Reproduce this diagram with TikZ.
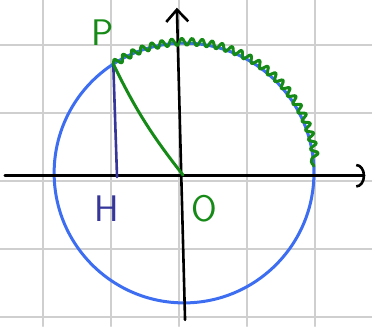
\documentclass[tikz,border=0pt]{standalone}
\usepackage{xcolor}
\usepackage{tikz}
\usetikzlibrary{arrows.meta,calc,decorations.pathmorphing}
\definecolor{bluecircle}{HTML}{3D6EF2}
\definecolor{greenmain}{HTML}{168A16}
\definecolor{indigoline}{HTML}{35359A}
\definecolor{graygrid}{HTML}{CFCFCF}
\tikzset{every node/.append style={font=\sffamily\fontsize{37}{37}\selectfont}}

\begin{document}
\begin{tikzpicture}[x=68pt,y=68pt,line cap=round,line join=round]
  \useasboundingbox (-2.691,-2.221) rectangle (2.779,2.574);
  \foreach \i in {-2,...,2} {
    \draw[graygrid,line width=2pt] ({\i-0.06},-2.221)--({\i-0.06},2.574);
    \draw[graygrid,line width=2pt] (-2.691,{\i-0.09})--(2.779,{\i-0.09});
  }
  \coordinate (O) at (0,0);
  \coordinate (C) at (0.015,0.03);
  \coordinate (P) at ($(C)+(123:1.91)$);
  \coordinate (H) at (-0.97,-0.03);
  \coordinate (Xl) at (-2.62,-0.01);
  \coordinate (Xr) at (2.68,-0.01);
  \coordinate (Yb) at (0.03,-2.13);
  \coordinate (Yt) at (-0.09,2.46);
  \draw[bluecircle,line width=3pt] (C) circle (1.91);
  \draw[-{Arc Barb[length=9pt,width=24pt]},line width=2.6pt] (Xl)--(Xr);
  \draw[-{Straight Barb[length=12pt,width=22pt]},line width=2.6pt] (Yb)--(Yt);
  \draw[indigoline,line width=2.6pt] (P)--(H);
  \draw[greenmain,line width=3pt] (P) to[bend right=6] (O);
  \draw[greenmain,line width=3pt,decorate,
    decoration={snake,amplitude=3.5pt,segment length=10pt}]
    (P) arc[start angle=123,end angle=3,radius=1.91];
  \node[greenmain] (Plab) at (-1.18,2.10) {P};
  \node[indigoline] (Hlab) at (-1.12,-0.49) {H};
  \node[greenmain] (Olab) at (0.32,-0.49) {O};
\end{tikzpicture}
\end{document}
